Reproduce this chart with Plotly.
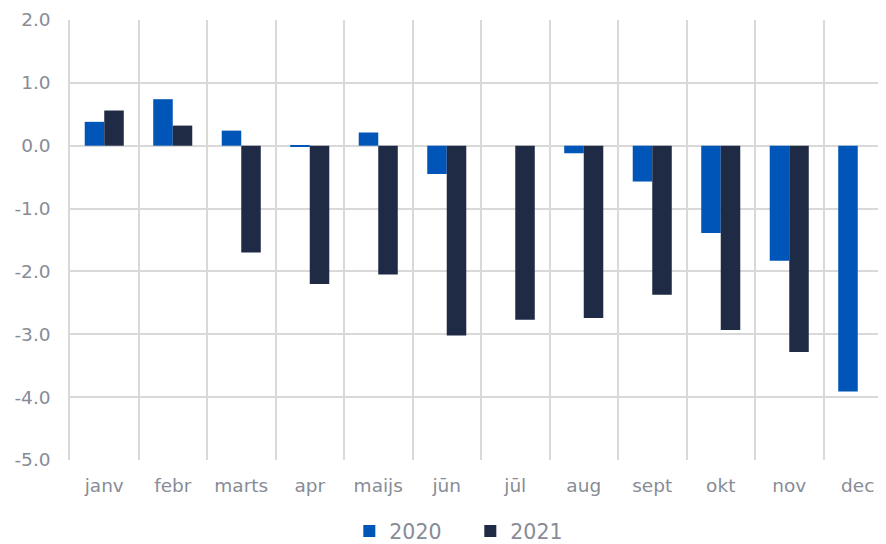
import plotly.graph_objects as go

months = ["janv", "febr", "marts", "apr", "maijs", "jūn", "jūl", "aug", "sept", "okt", "nov", "dec"]
y2020 = [0.38, 0.74, 0.24, -0.02, 0.21, -0.45, None, -0.12, -0.57, -1.39, -1.83, -3.91]
y2021 = [0.56, 0.32, -1.70, -2.20, -2.05, -3.02, -2.77, -2.74, -2.37, -2.93, -3.28, None]
yticks = [2, 1, 0, -1, -2, -3, -4, -5]
ytick_text = ["2.0", "1.0", "0.0", "-1.0", "-2.0", "-3.0", "-4.0", "-5.0"]

FONT = "Verdana, DejaVu Sans, sans-serif"
TXT = "#878c96"
GRID = "#d9d9d9"

fig = go.Figure()
fig.add_trace(go.Bar(name="2020", x=months, y=y2020, marker_color="#0055b8", marker_line_width=0))
fig.add_trace(go.Bar(name="2021", x=months, y=y2021, marker_color="#1f2a44", marker_line_width=0))

fig.update_layout(
    width=886, height=544,
    margin=dict(l=62, r=2, t=12, b=92, autoexpand=False),
    paper_bgcolor="white", plot_bgcolor="white",
    barmode="group", bargap=0.43, bargroupgap=0,
    font=dict(family=FONT, color=TXT, size=18.5),
    showlegend=True,
    legend=dict(orientation="h", x=0.487, xanchor="center", y=-0.162, yanchor="middle",
                font=dict(size=20.5, color=TXT), itemwidth=30, entrywidth=76,
                traceorder="normal"),
)
fig.update_xaxes(
    type="category", range=[-0.5, 11.5], tickson="boundaries",
    showgrid=True, gridcolor=GRID, gridwidth=1.5,
    showline=False, zeroline=False, ticks="", ticklabelstandoff=12,
    tickfont=dict(size=18.5, color=TXT), automargin=False,
)
fig.update_yaxes(
    range=[-5, 2], tickvals=yticks, ticktext=ytick_text,
    showgrid=True, gridcolor=GRID, gridwidth=1.5,
    zeroline=True, zerolinecolor=GRID, zerolinewidth=1.5,
    showline=True, linecolor=GRID, linewidth=1.5,
    ticks="", ticklabelstandoff=14,
    tickfont=dict(size=18.5, color=TXT), automargin=False,
)
fig.write_html("out.html")
